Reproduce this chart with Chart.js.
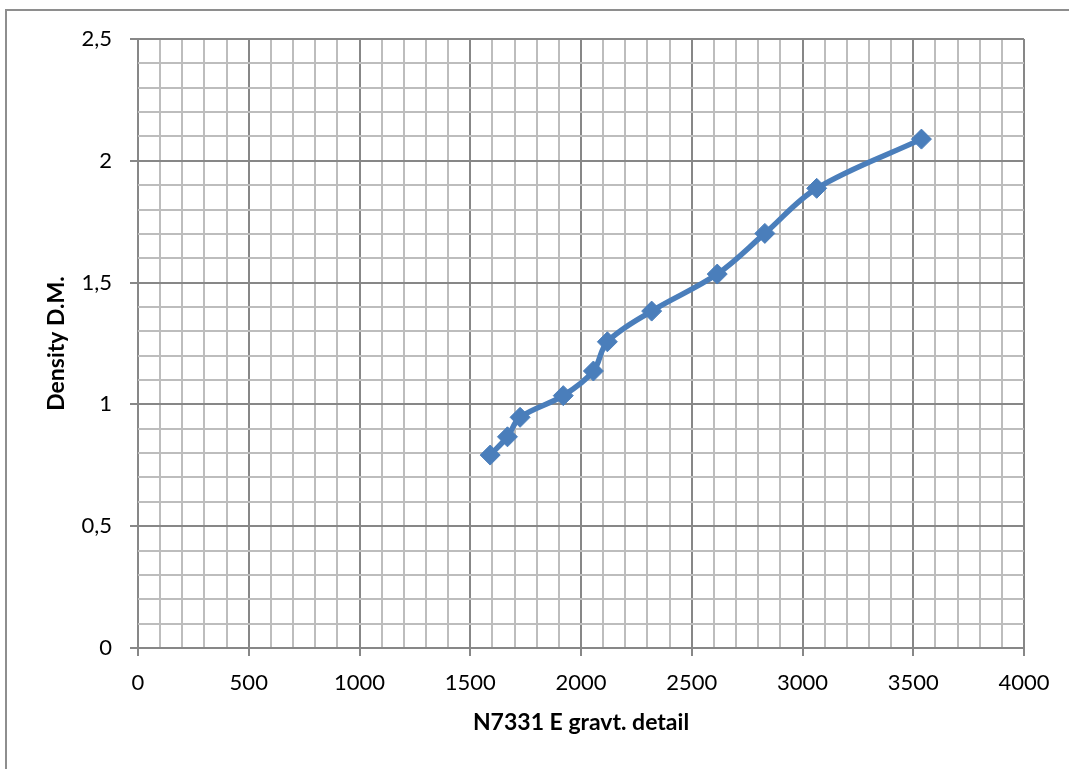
<!DOCTYPE html>
<html>
<head>
<meta charset="utf-8">
<script src="https://cdn.jsdelivr.net/npm/chart.js@4/dist/chart.umd.min.js"></script>
<style>
  body { margin: 0; background: #fff; }
  #wrap { position: relative; width: 1069px; height: 769px; overflow: hidden; }
  #frame { position: absolute; left: 5px; top: 9px; width: 1100px; height: 800px;
           border-top: 2px solid #8e8e8e; border-left: 2px solid #8e8e8e; pointer-events: none; }
  canvas { position: absolute; left: 0; top: 0; }
</style>
</head>
<body>
<div id="wrap">
  <canvas id="chart" width="1069" height="769"></canvas>
  <div id="frame"></div>
</div>
<script>
// data
var gravtDetail = [1590, 1668, 1725, 1920, 2056, 2119, 2319, 2615, 2830, 3064, 3537];
var density = [0.792, 0.867, 0.947, 1.036, 1.137, 1.257, 1.383, 1.535, 1.702, 1.887, 2.089];

var xRange = [0, 4000], xMajor = 500, xMinor = 100;
var yRange = [0, 2.5], yMajor = 0.5, yMinor = 0.1;
var xTitle = 'N7331 E gravt. detail';
var yTitle = 'Density D.M.';

var points = gravtDetail.map(function(x, i) { return { x: x, y: density[i] }; });

function isMajor(v, step) {
  var r = v / step;
  return Math.abs(r - Math.round(r)) < 1e-6;
}

var majorColor = '#878787';
var minorColor = '#bdbdbd';

var ctx = document.getElementById('chart').getContext('2d');
var chart = new Chart(ctx, {
  type: 'scatter',
  data: {
    datasets: [{
      label: yTitle,
      data: points,
      showLine: true,
      borderColor: '#4a7ebb',
      backgroundColor: '#4a7ebb',
      borderWidth: 5.5,
      tension: 0.35,
      pointStyle: 'rectRot',
      pointRadius: 10,
      pointBorderWidth: 1,
      pointBackgroundColor: '#4a7ebb',
      pointBorderColor: '#4a7ebb'
    }]
  },
  options: {
    responsive: false,
    animation: false,
    layout: { padding: { left: 0, top: 39, right: 45, bottom: 0 } },
    plugins: { legend: { display: false }, tooltip: { enabled: false } },
    scales: {
      x: {
        type: 'linear',
        min: xRange[0], max: xRange[1],
        afterFit: function(s) { s.height = 121; },
        border: { display: false },
        grid: {
          color: function(c) { return isMajor(c.tick.value, xMajor) ? majorColor : minorColor; },
          lineWidth: 2,
          tickLength: 8,
          tickColor: function(c) { return isMajor(c.tick.value, xMajor) ? majorColor : 'rgba(0,0,0,0)'; }
        },
        ticks: {
          stepSize: xMinor,
          autoSkip: false,
          maxRotation: 0,
          padding: 14,
          color: '#000',
          font: { family: 'Lato', size: 22 },
          callback: function(v) { return isMajor(v, xMajor) ? String(v) : ''; }
        },
        title: {
          display: true,
          text: xTitle,
          color: '#000',
          font: { family: 'Lato', size: 23, weight: 'bold' },
          padding: { top: 0, bottom: 33 }
        }
      },
      y: {
        type: 'linear',
        min: yRange[0], max: yRange[1],
        afterFit: function(s) { s.width = 138; },
        border: { display: false },
        grid: {
          color: function(c) { return isMajor(c.tick.value, yMajor) ? majorColor : minorColor; },
          lineWidth: 2,
          tickLength: 8,
          tickColor: function(c) { return isMajor(c.tick.value, yMajor) ? majorColor : 'rgba(0,0,0,0)'; }
        },
        ticks: {
          stepSize: yMinor,
          autoSkip: false,
          padding: 18,
          color: '#000',
          font: { family: 'Lato', size: 22 },
          callback: function(v) {
            if (!isMajor(v, yMajor)) return '';
            return String(Math.round(v * 10) / 10).replace('.', ',');
          }
        },
        title: {
          display: true,
          text: yTitle,
          color: '#000',
          font: { family: 'Lato', size: 23, weight: 'bold' },
          padding: { top: 43, bottom: 0 }
        }
      }
    }
  }
});
</script>
</body>
</html>
